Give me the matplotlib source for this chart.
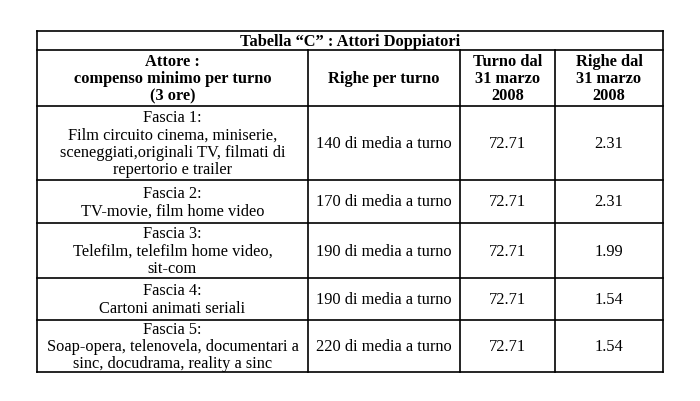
import matplotlib
matplotlib.use("Agg")
import matplotlib.pyplot as plt

title = "Tabella \u201cC\u201d : Attori Doppiatori"
headers = ["Attore :\ncompenso minimo per turno\n(3 ore)", "Righe per turno",
           "Turno dal\n31 marzo\n2008", "Righe dal\n31 marzo\n2008"]
fasce = ["Fascia 1:\nFilm circuito cinema, miniserie,\nsceneggiati,originali TV, filmati di\nrepertorio e trailer",
         "Fascia 2:\nTV-movie, film home video",
         "Fascia 3:\nTelefilm, telefilm home video,\nsit-com",
         "Fascia 4:\nCartoni animati seriali",
         "Fascia 5:\nSoap-opera, telenovela, documentari a\nsinc, docudrama, reality a sinc"]
righe = [140, 170, 190, 190, 220]
turno = [72.71, 72.71, 72.71, 72.71, 72.71]
righe_dal = [2.31, 2.31, 1.99, 1.54, 1.54]

plt.rcParams['font.family'] = ['Liberation Serif', 'DejaVu Serif']
fig = plt.figure(figsize=(7, 4.01), dpi=100)
ax = fig.add_axes([0, 0, 1, 1])
ax.set_xlim(0, 700)
ax.set_ylim(401, 0)
ax.axis("off")

xs = [37, 308, 460, 555, 663]
ys = [31, 50, 106, 180, 223, 278, 320, 372]
lw = 1.2

# outer and grid lines
for y in ys:
    ax.plot([xs[0], xs[-1]], [y, y], color="black", lw=lw)
for x in [xs[0], xs[-1]]:
    ax.plot([x, x], [ys[0], ys[-1]], color="black", lw=lw)
for x in xs[1:-1]:
    ax.plot([x, x], [ys[1], ys[-1]], color="black", lw=lw)

fs = 11.8
ls = 1.12
ax.text((xs[0] + xs[-1]) / 2, (ys[0] + ys[1]) / 2 + 1, title, ha="center", va="center",
        fontsize=fs, fontweight="bold")
for i, h in enumerate(headers):
    ax.text((xs[i] + xs[i + 1]) / 2, (ys[1] + ys[2]) / 2 + 1, h, ha="center", va="center",
            fontsize=fs, fontweight="bold", linespacing=ls)
for r in range(len(fasce)):
    yc = (ys[r + 2] + ys[r + 3]) / 2 + 1
    cells = [fasce[r], f"{righe[r]} di media a turno", f"{turno[r]:.2f}", f"{righe_dal[r]:.2f}"]
    for i, c in enumerate(cells):
        ax.text((xs[i] + xs[i + 1]) / 2, yc, c, ha="center", va="center",
                fontsize=fs, linespacing=ls)

fig.savefig("out.png", dpi=100, facecolor="white")
